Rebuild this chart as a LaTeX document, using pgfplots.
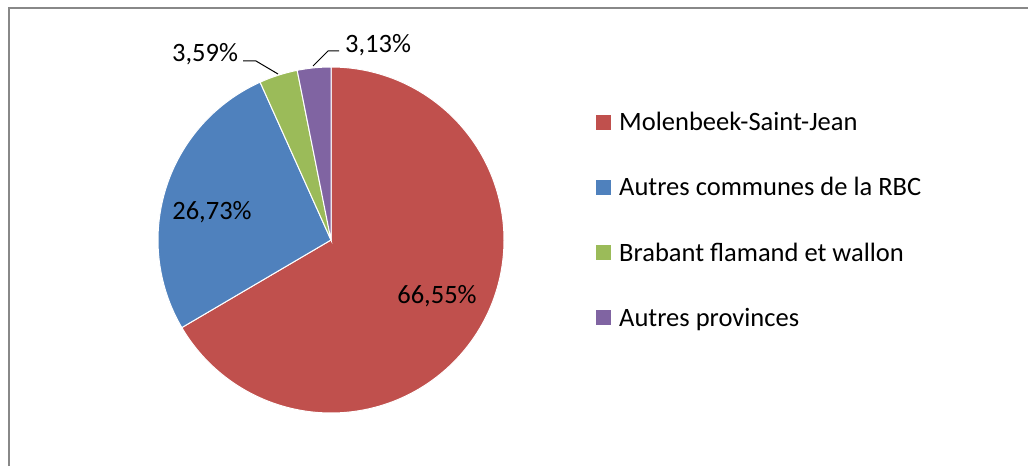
\documentclass[border=0pt]{standalone}
\usepackage{pgfplots}
\pgfplotsset{compat=1.18}
\usepackage{fontspec}
\setmainfont{Carlito}
\definecolor{cRed}{HTML}{C0504D}
\definecolor{cBlue}{HTML}{4F81BD}
\definecolor{cGreen}{HTML}{9BBB59}
\definecolor{cPurple}{HTML}{8064A2}
\definecolor{cFrame}{HTML}{888888}
\begin{document}
\begin{tikzpicture}[font=\fontsize{26.5}{31}\selectfont]
% shares in percent
\def\vA{66.55}\def\vB{26.73}\def\vC{3.59}\def\vD{3.13}
\def\cx{331}\def\cy{226}\def\rr{173}
\pgfmathsetmacro{\aA}{90}
\pgfmathsetmacro{\aB}{\aA-\vA*3.6}
\pgfmathsetmacro{\aC}{\aB-\vB*3.6}
\pgfmathsetmacro{\aD}{\aC-\vC*3.6}
\pgfmathsetmacro{\aE}{\aD-\vD*3.6}
\begin{axis}[
  x=1pt, y=1pt, xmin=0, xmax=1028, ymin=0, ymax=466,
  scale only axis, hide axis, clip=false,
  legend cell align=left,
  legend image code/.code={\fill[#1,draw=none] (0pt,-7.5pt) rectangle (15pt,7.5pt);},
  legend style={at={(axis cs:596,354)}, anchor=north west, draw=none, fill=none,
    inner sep=0pt, row sep=45.4pt, column sep=8pt,
    font=\fontsize{26.5}{31}\selectfont,
    nodes={inner sep=0pt}},
]
\coordinate (bbSW) at (axis cs:0,0);
\coordinate (bbNE) at (axis cs:1028,466);
\draw[cFrame, line width=1.3pt] (axis cs:9,0) -- (axis cs:9,458) -- (axis cs:1028,458);
\addplot[fill=cRed, draw=white, line width=1pt, domain=\aB:\aA, samples=150, variable=\t]
  ({\cx+\rr*cos(\t)},{\cy+\rr*sin(\t)}) -- (axis cs:\cx,\cy) -- cycle;
\addlegendentry{Molenbeek-Saint-Jean}
\addplot[fill=cBlue, draw=white, line width=1pt, domain=\aC:\aB, samples=80, variable=\t]
  ({\cx+\rr*cos(\t)},{\cy+\rr*sin(\t)}) -- (axis cs:\cx,\cy) -- cycle;
\addlegendentry{Autres communes de la RBC}
\addplot[fill=cGreen, draw=white, line width=1pt, domain=\aD:\aC, samples=20, variable=\t]
  ({\cx+\rr*cos(\t)},{\cy+\rr*sin(\t)}) -- (axis cs:\cx,\cy) -- cycle;
\addlegendentry{Brabant flamand et wallon}
\addplot[fill=cPurple, draw=white, line width=1pt, domain=\aE:\aD, samples=20, variable=\t]
  ({\cx+\rr*cos(\t)},{\cy+\rr*sin(\t)}) -- (axis cs:\cx,\cy) -- cycle;
\addlegendentry{Autres provinces}
% data labels
\node at (axis cs:437,170) {66,55\%};
\node at (axis cs:212,254) {26,73\%};
\node at (axis cs:205,412) {3,59\%};
\node at (axis cs:378,421) {3,13\%};
% leader lines
\draw[black, line width=1pt] (axis cs:243,405) -- (axis cs:256,405) -- (axis cs:278,392);
\draw[black, line width=1pt] (axis cs:313,400) -- (axis cs:328,415) -- (axis cs:339,415);
\end{axis}
\pgfresetboundingbox
\useasboundingbox (bbSW) rectangle (bbNE);
\end{tikzpicture}
\end{document}
